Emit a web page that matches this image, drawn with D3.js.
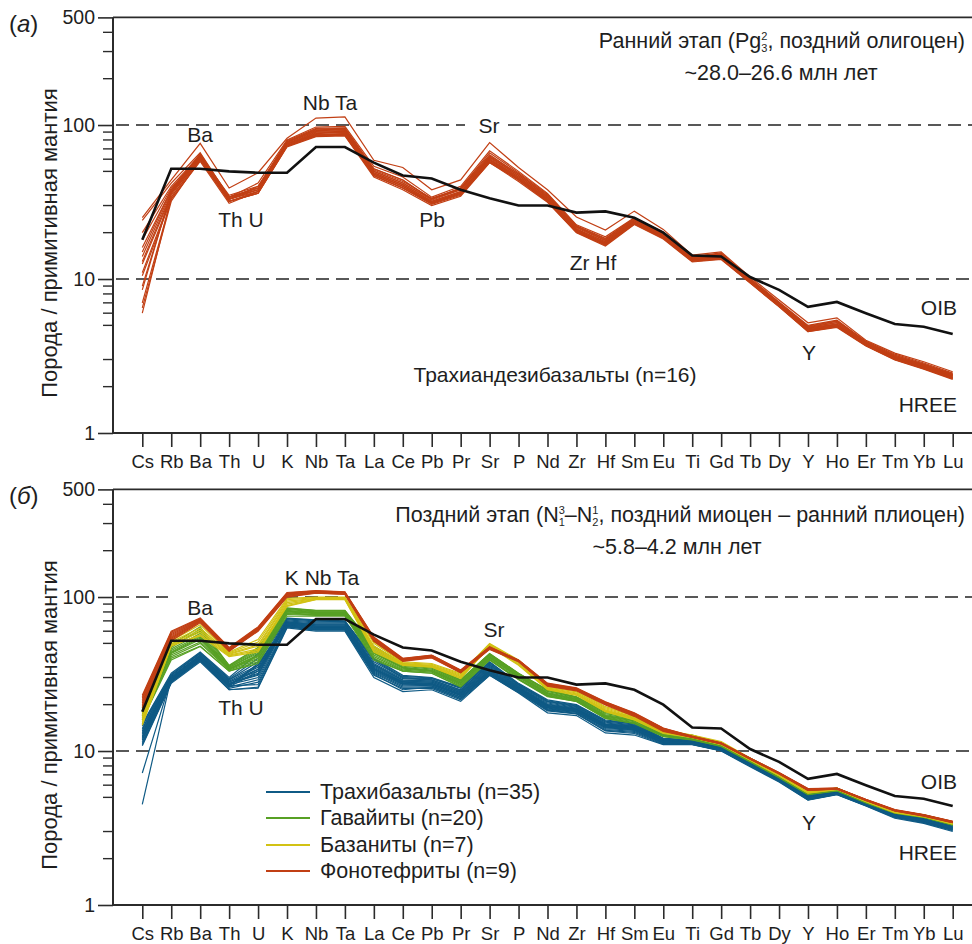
<!DOCTYPE html>
<html><head><meta charset="utf-8">
<script src="https://cdn.jsdelivr.net/npm/d3@7"></script>
<style>
html,body{margin:0;padding:0;background:#fff;}
svg{display:block;font-family:"Liberation Sans",Arial,sans-serif;}
</style></head>
<body><svg id="c" width="972" height="944"></svg>
<script>
// ---------- DATA ----------
const elements = ["Cs","Rb","Ba","Th","U","K","Nb","Ta","La","Ce","Pb","Pr","Sr","P","Nd","Zr","Hf","Sm","Eu","Ti","Gd","Tb","Dy","Y","Ho","Er","Tm","Yb","Lu"];
const yTickValues = [1,10,100,500];
const oib = [18,52,52,50,49,49,72,72,57,47,45,38,33.5,30,30,27,27.5,25,20,14.2,14,10.3,8.5,6.6,7.1,6.0,5.1,4.9,4.4];

// Panel (a): трахиандезибазальты, n=16
const earlyTrachyandesibasalts = [
 [25,44,76,39,49,82,111,113,59,53,38,44,77,53,38,25.3,20.8,27.6,21,14.3,15,10.3,7.3,5.2,5.6,4.0,3.3,2.9,2.5],
 [24,42,66,34,42,80,97,98,54,46,34,40,68,50,36,22.5,18.8,25,20.2,14,14.8,10.1,7.1,5.0,5.4,3.95,3.25,2.85,2.45],
 [20,40,64,33,40,78,94,95,52,44,33,39,64,48,35,22,18.2,24.6,19.8,13.8,14.5,10,7.0,4.9,5.3,3.9,3.2,2.8,2.4],
 [18,39,63,34,39,77,92,93,50,42,32.5,38,62,47,34,21.5,17.8,24.2,19.5,13.6,14.2,9.9,6.9,4.85,5.2,3.85,3.15,2.75,2.38],
 [16,38,62,33,38,76,90,91,49,41,32,37,61,46,33.5,21,17.5,23.8,19.2,13.4,14,9.8,6.85,4.8,5.1,3.8,3.1,2.72,2.35],
 [14,37,61,32,37,75,88,90,48,40,31.5,36.5,60,45,33,20.8,17.2,23.5,19,13.3,13.8,9.7,6.8,4.75,5.05,3.78,3.08,2.7,2.33],
 [13,36,60,33,37,74,87,88,48,40,31,36,59,45,32.5,20.5,17,23.2,18.8,13.2,13.7,9.6,6.75,4.7,5.0,3.75,3.05,2.68,2.3],
 [12.5,35,62,34,38,76,86,87,47,39,31,35.5,58,44,32,20.3,16.8,23,18.6,13.1,13.6,9.55,6.7,4.65,4.95,3.72,3.02,2.65,2.28],
 [11,34,60,32,36,73,85,86,47,39,30.5,35,57,44,32,20.1,16.6,22.8,18.4,13,13.5,9.5,6.65,4.6,4.9,3.7,3.0,2.62,2.25],
 [10.5,33,59,32,36,72,84,85,46,38,30,34.5,57,43,31.5,20,16.4,22.6,18.2,12.9,13.4,9.4,6.6,4.55,4.85,3.68,2.98,2.6,2.23],
 [9,36,63,35,40,77,91,92,50,42,33,38,62,47,34,21.2,17.4,23.9,19.3,13.5,14.1,9.8,6.85,4.8,5.1,3.82,3.12,2.74,2.36],
 [8.5,37,64,34,39,78,93,94,51,43,33.5,38.5,63,48,34.5,21.8,17.9,24.3,19.6,13.7,14.3,9.9,6.95,4.85,5.2,3.86,3.15,2.77,2.39],
 [7,33,58,31,37,75,89,90,49,41,32,37,60,46,33,20.7,17,23.4,18.9,13.3,13.9,9.7,6.8,4.7,5.0,3.77,3.06,2.69,2.31],
 [6.5,32,60,33,38,74,86,88,48,40,31.5,36,59,45,32.5,20.4,16.9,23.1,18.7,13.2,13.7,9.6,6.7,4.6,4.95,3.74,3.03,2.66,2.29],
 [6,34,61,32,36,73,85,86,47,39,31,35.5,58,44.5,32,20.2,16.7,22.9,18.5,13.1,13.6,9.5,6.65,4.55,4.9,3.7,3.0,2.63,2.26],
 [15,38,65,34,39,79,95,96,52,44,33,39,66,49,35.5,22.2,18.4,24.8,20,13.9,14.6,10,7.0,4.95,5.35,3.9,3.2,2.8,2.42]
];

// Panel (б)
const trachybasalts = [
 [15,32,44,30,43,73,71,70,40,31,30,26,38,27.5,21.5,20,15.9,15.2,12.1,11.8,10.7,8.5,6.8,5.2,5.6,4.7,4.0,3.72,3.38],
 [14.5,31,43,29,38,72,70,69,39,30,29.5,25.5,37,27,21,19.6,15.6,15,12,11.7,10.6,8.45,6.75,5.15,5.55,4.68,3.98,3.7,3.35],
 [14,31,43,29,36,71,69,69,38,30,29,25,36.5,26.8,20.8,19.4,15.4,14.8,11.9,11.6,10.55,8.4,6.7,5.1,5.5,4.65,3.95,3.68,3.33],
 [13.8,30.5,42,28.5,35,70,68,68,37,29.5,29,24.8,36,26.5,20.5,19.2,15.2,14.6,11.85,11.55,10.5,8.35,6.68,5.08,5.48,4.63,3.93,3.66,3.3],
 [13.5,30,42,28,34,69,67,67,36.5,29,28.5,24.5,35.5,26.2,20.2,19,15,14.5,11.8,11.5,10.45,8.3,6.65,5.05,5.45,4.6,3.9,3.64,3.28],
 [13.2,30,41.5,28,33,69,66,66,36,28.8,28.5,24.2,35,26,20,18.8,14.9,14.4,11.75,11.45,10.4,8.28,6.62,5.03,5.43,4.58,3.88,3.62,3.26],
 [13,29.5,41,27.5,32,68,66,66,35.5,28.5,28,24,34.5,25.8,19.8,18.7,14.8,14.3,11.7,11.4,10.38,8.25,6.6,5.0,5.4,4.56,3.86,3.6,3.24],
 [12.8,29.5,41,27.5,31,68,65,65,35,28.2,28,23.8,34,25.6,19.6,18.6,14.7,14.2,11.65,11.35,10.35,8.22,6.58,4.98,5.38,4.55,3.85,3.58,3.22],
 [12.5,29,40.5,27,30,67,64.5,64.5,34.5,28,27.5,23.5,33.5,25.4,19.5,18.5,14.6,14.1,11.6,11.3,10.3,8.2,6.55,4.96,5.36,4.53,3.83,3.56,3.2],
 [12.3,29,40,27,34,67,64,64,34,27.8,27.5,23.3,33,25.2,19.4,18.4,14.5,14,11.55,11.28,10.28,8.18,6.52,4.94,5.34,4.52,3.82,3.54,3.18],
 [12,29,40,26.5,36,66,63.5,63.5,34,27.5,27,23,33,25,19.2,18.2,14.4,13.9,11.5,11.25,10.25,8.15,6.5,4.92,5.32,4.5,3.8,3.52,3.16],
 [11.8,28.5,39.5,26.5,37,66,63,63,33.5,27.2,27,22.8,32.5,24.8,19,18.1,14.3,13.8,11.45,11.22,10.22,8.12,6.48,4.9,5.3,4.48,3.78,3.5,3.14],
 [11.5,28.5,39,26,33,65,62.5,62.5,33,27,26.5,22.5,32,24.6,18.8,18,14.2,13.7,11.4,11.2,10.2,8.1,6.45,4.88,5.28,4.47,3.77,3.48,3.12],
 [11.2,28,39,26,29,65,62,62,32.5,26.5,26.5,22.3,32,24.4,18.6,17.8,14,13.6,11.35,11.15,10.15,8.08,6.42,4.86,5.26,4.45,3.75,3.46,3.1],
 [11,28,38.5,25.5,28,64,61.5,61.5,32,26,26,22,31.5,24.2,18.4,17.6,13.8,13.4,11.3,11.1,10.1,8.05,6.4,4.84,5.24,4.43,3.73,3.44,3.07],
 [10.8,27.5,38,25,26,64,61,61,31,25.5,25.5,21.5,31,24,18.2,17.4,13.6,13.2,11.2,11.05,10.05,8.0,6.35,4.82,5.22,4.42,3.71,3.42,3.04],
 [7.2,29.5,39,25,25.6,63,60,60,30,24.3,25,21,31,23.8,17.7,17,13.1,12.7,11,11,10,7.9,6.3,4.8,5.2,4.4,3.66,3.39,3.0],
 [4.5,30,40,26.5,27,65,62,62,31.5,25,26,21.8,32,24.5,18.5,17.5,13.5,13,11.1,11.05,10.1,8.0,6.38,4.85,5.25,4.44,3.72,3.45,3.08],
 [14.8,31.5,43.5,29.5,40,72.5,70.5,69.5,39.5,30.5,29.8,25.8,37.5,27.2,21.2,19.8,15.7,15.1,12.05,11.75,10.65,8.48,6.78,5.18,5.58,4.69,3.99,3.71,3.36],
 [12.2,29.2,40.2,27.2,31.5,67.5,64.2,64.2,34.2,27.6,27.2,23.2,33.2,25.1,19.3,18.3,14.45,13.95,11.52,11.27,10.27,8.16,6.51,4.93,5.33,4.51,3.81,3.53,3.17]
];
const hawaiites = [
 [19.4,49,64,36,47,85,82,82,48,37,35.3,29,43,32,25,22.5,18,16.7,13.3,12.7,11.2,9.0,7.2,5.45,5.75,4.8,4.1,3.85,3.47],
 [19,48,60,35.5,45,84,81,81,47,36.5,35,28.7,42.5,31.7,24.7,22.3,17.8,16.5,13.2,12.6,11.1,8.9,7.1,5.42,5.72,4.78,4.08,3.83,3.45],
 [18.5,46,58,35,44,83,80,80,46,36,34.5,28.4,42,31.4,24.4,22.1,17.5,16.3,13.1,12.5,11.05,8.85,7.05,5.4,5.7,4.76,4.06,3.81,3.43],
 [18,45,56,35,43,82,79.5,79.5,45,35.5,34,28,41.5,31,24,21.9,17.2,16.1,12.95,12.35,11,8.8,7.0,5.37,5.67,4.74,4.04,3.8,3.41],
 [17.5,44,55,34.5,42,81,79,79,44,35,33.5,27.7,41,30.7,23.8,21.7,17,15.9,12.85,12.25,10.95,8.75,6.95,5.34,5.64,4.72,4.02,3.78,3.39],
 [17,43,53,34,41,80,78,78,43,34.5,33,27.4,40.5,30.4,23.5,21.5,16.8,15.7,12.75,12.15,10.9,8.7,6.9,5.31,5.61,4.7,4.0,3.76,3.37],
 [16.8,42,51,34,40,79,77,77,42,34,33,27,40,30,23.2,21.3,16.6,15.5,12.65,12.05,10.85,8.65,6.85,5.28,5.58,4.68,3.98,3.74,3.35],
 [16.5,41,50,33.5,39,78,76.5,76.5,41,33.5,32.5,26.7,39.5,29.5,23,21.1,16.4,15.3,12.55,11.95,10.8,8.6,6.8,5.25,5.55,4.66,3.96,3.72,3.33],
 [16,40,48,33,38,77,76,76,40,33,32,26.3,39,29.2,22.7,21,16.3,15.1,12.45,11.85,10.75,8.55,6.75,5.22,5.52,4.64,3.95,3.7,3.31],
 [15.9,39,47.7,33,37,75,75,75,39,33,32,26,39,29,22.5,21,16.3,15.1,12.4,11.8,10.7,8.5,6.7,5.2,5.5,4.6,3.95,3.7,3.3],
 [18.2,47,62,35.8,46,84.5,81.5,81.5,47.5,36.8,35.2,28.9,42.8,31.9,24.9,22.4,17.9,16.6,13.25,12.65,11.15,8.95,7.15,5.44,5.74,4.79,4.09,3.84,3.46],
 [17.2,43.5,54,34.2,41.5,80.5,78.5,78.5,43.5,34.8,33.2,27.5,40.7,30.5,23.6,21.6,16.9,15.8,12.8,12.2,10.92,8.72,6.92,5.32,5.62,4.71,4.01,3.77,3.38]
];
const basanites = [
 [17.7,54,69,44,53,98,100,100,51,38,37,32,50,39,26.8,25,19.4,17.1,13.7,12.7,11.5,9.0,7.1,5.45,5.75,4.8,4.1,3.85,3.45],
 [17,52,66,43.5,51,96,99,99,50,37.5,36.5,31.5,49.5,38.5,26.5,24.6,19.1,16.9,13.6,12.6,11.4,8.95,7.05,5.42,5.72,4.78,4.08,3.83,3.43],
 [16.5,51,63,43,49,94,98,98,48,37,36,31,49,38,26,24.2,18.8,16.6,13.5,12.5,11.3,8.9,7.0,5.4,5.7,4.76,4.06,3.81,3.41],
 [16,50,61,42.5,48,92,97.5,97.5,47,36.8,35.8,30.6,48.5,37.5,25.7,23.8,18.5,16.4,13.4,12.4,11.2,8.85,6.98,5.38,5.68,4.74,4.04,3.79,3.39],
 [15.5,49,59,42,46,90,97,97,46,36.5,35.5,30.2,48,37,25.4,23.5,18.3,16.2,13.25,12.3,11.1,8.8,6.95,5.36,5.66,4.72,4.02,3.77,3.37],
 [15,48,57,41.5,45,88,96.5,96.5,45,36.2,35.2,29.8,47.8,36.5,25.2,23.2,18.1,16,13.1,12.25,11.05,8.75,6.92,5.34,5.64,4.7,4.0,3.75,3.36],
 [14.7,48.5,56,41,44,87,96,96,44,36,35,29.6,47.6,36,25,23,18,15.9,13,12.2,11,8.7,6.9,5.32,5.62,4.68,3.98,3.74,3.35]
];
const phonotephrites = [
 [23,60,73,47,64,107,110,108,55,40,42,33.6,47.5,39,27.6,25.7,20.9,17.7,14.1,12.5,11.3,9.0,7.25,5.7,5.75,4.85,4.16,3.86,3.5],
 [22.5,59,72.5,46.5,63.5,106,109.5,107.5,54.5,39.8,41.8,33.4,47.3,38.9,27.4,25.5,20.8,17.6,14.05,12.45,11.28,8.98,7.23,5.68,5.74,4.84,4.15,3.85,3.49],
 [22,58,72,46,63,105,109,107,54,39.6,41.6,33.2,47,38.8,27.2,25.4,20.6,17.5,14,12.4,11.25,8.96,7.21,5.66,5.72,4.83,4.14,3.84,3.48],
 [21.5,57,71.5,45.7,62.5,104.5,108.5,106.5,53.5,39.4,41.4,33,46.8,38.6,27,25.2,20.5,17.4,13.9,12.38,11.22,8.95,7.2,5.64,5.71,4.82,4.13,3.83,3.47],
 [21,56,71,45.5,62,104,108,106,53,39.2,41.2,32.8,46.6,38.5,26.9,25.1,20.4,17.3,13.8,12.35,11.2,8.93,7.18,5.62,5.7,4.81,4.12,3.82,3.46],
 [20.5,55,70.5,45.2,61.5,103,107.5,105.5,52.5,39,41,32.6,46.4,38.4,26.8,25,20.3,17.2,13.7,12.32,11.18,8.92,7.16,5.6,5.69,4.8,4.11,3.81,3.45],
 [20,54,70,45,61,102,107,105,52,38.8,40.8,32.4,46.2,38.3,26.7,24.9,20.2,17.1,13.6,12.3,11.16,8.9,7.14,5.58,5.68,4.79,4.1,3.8,3.44],
 [19.5,53,69,44.7,60.5,101,106.5,104.5,52,38.5,40.5,32.3,46,38.2,26.5,24.8,20.1,17,13.5,12.28,11.14,8.88,7.12,5.56,5.67,4.78,4.09,3.79,3.43],
 [19,52,68,44.5,60,100,106,104,51.5,38.2,40.2,32.2,45.7,38,26.4,24.6,19.9,16.8,13.4,12.25,11.12,8.86,7.1,5.55,5.66,4.77,4.08,3.78,3.42]
];
const legendLabels = ["Трахибазальты (n=35)","Гавайиты (n=20)","Базаниты (n=7)","Фонотефриты (n=9)"];

// ---------- DRAW ----------
const svg = d3.select("#c");
const FF = "Liberation Sans, Arial, sans-serif";
const F_TICKX = 18.5, F_TICKY = 19.5, F_LAB = 21, F_HEAD = 21.5, F_TITLE = 22, F_LEG = 21.5;
const cBlue = "#0f5a85", cGreen = "#57a024", cYellow = "#d2c214", cRed = "#c13f14";
const axisCol = "#2b2b2b", txtCol = "#1e1e1e";
const x = d3.scalePoint().domain(elements).range([142.3, 952.7]);
const X0 = 113, X1 = 972;

function drawPanel(top, bottom, cfg) {
  const y = d3.scaleLog().domain([1, 500]).range([bottom, top]);
  const g = svg.append("g");

  cfg.dashes.forEach(d => {
    d.segs.forEach(s => {
      g.append("line").attr("x1", s[0]).attr("x2", s[1])
        .attr("y1", y(d.v)).attr("y2", y(d.v))
        .attr("stroke", "#222").attr("stroke-width", 1.5)
        .attr("stroke-dasharray", "13,7");
    });
  });

  const minor = [2,3,5,6,7,8,9,20,30,50,60,70,80,90,200,300,400];
  const ya = g.append("g").attr("transform", `translate(${X0},0)`);
  ya.call(d3.axisLeft(y).tickValues(yTickValues).tickFormat(d3.format("d")).tickSize(15).tickPadding(3));
  ya.selectAll(".tick text").attr("font-size", F_TICKY).attr("fill", txtCol).attr("font-family", FF);
  ya.selectAll(".tick line").attr("stroke", axisCol).attr("stroke-width", 1.6);
  ya.select(".domain").remove();
  minor.forEach(v => g.append("line").attr("x1", X0 - 10).attr("x2", X0)
    .attr("y1", y(v)).attr("y2", y(v)).attr("stroke", axisCol).attr("stroke-width", 1.4));

  const xa = g.append("g").attr("transform", `translate(0,${bottom})`);
  xa.call(d3.axisBottom(x).tickSize(14).tickPadding(8));
  xa.select(".domain").remove();
  xa.selectAll(".tick line").attr("stroke", axisCol).attr("stroke-width", 1.6);
  xa.selectAll(".tick text").attr("font-size", F_TICKX).attr("fill", txtCol).attr("font-family", FF);

  g.append("line").attr("x1", X0).attr("x2", X1).attr("y1", bottom).attr("y2", bottom).attr("stroke", axisCol).attr("stroke-width", 2);
  g.append("line").attr("x1", X0).attr("x2", X1).attr("y1", top).attr("y2", top).attr("stroke", axisCol).attr("stroke-width", 1.6);
  g.append("line").attr("x1", X0).attr("x2", X0).attr("y1", top).attr("y2", bottom).attr("stroke", axisCol).attr("stroke-width", 2);

  const line = d3.line().x((d, i) => x(elements[i])).y(d => y(d));
  cfg.groups.forEach(grp => {
    grp.data.forEach(s => {
      g.append("path").attr("d", line(s)).attr("fill", "none").attr("stroke", grp.color)
        .attr("stroke-width", 1.2).attr("stroke-linejoin", "miter");
    });
  });
  g.append("path").attr("d", line(oib)).attr("fill", "none").attr("stroke", "#111").attr("stroke-width", 2.6).attr("stroke-linejoin", "miter");

  g.append("text").attr("transform", `translate(57,${cfg.titleY}) rotate(-90)`)
    .attr("text-anchor", "middle").attr("font-size", F_TITLE).attr("fill", txtCol)
    .text("Порода / примитивная мантия");

  const pl = g.append("text").attr("x", 9).attr("y", top + 15).attr("font-size", 24).attr("fill", txtCol);
  pl.append("tspan").text("(");
  pl.append("tspan").attr("font-style", "italic").text(cfg.letter);
  pl.append("tspan").text(")");

  cfg.labels.forEach(l => {
    g.append("text").attr("x", l[1]).attr("y", l[2]).attr("text-anchor", l[3] || "middle")
      .attr("font-size", F_LAB).attr("fill", txtCol).text(l[0]);
  });

  const h = g.append("text").attr("x", 965).attr("y", cfg.headY).attr("text-anchor", "end").attr("font-size", F_HEAD).attr("fill", txtCol);
  cfg.head.forEach(p => {
    const t = h.append("tspan").text(p.t);
    if (p.sub) t.attr("font-size", 11).attr("dy", 4);
    if (p.sup) t.attr("font-size", 11).attr("dx", -6.1).attr("dy", -12.5);
    if (p.back) t.attr("dy", p.back);
  });
  g.append("text").attr("x", cfg.head2[1]).attr("y", cfg.headY + 32).attr("text-anchor", "middle")
    .attr("font-size", F_HEAD).attr("fill", txtCol).text(cfg.head2[0]);
  return g;
}

drawPanel(17.4, 433, {
  letter: "а", titleY: 243, headY: 48,
  dashes: [{v: 100, segs: [[116, 465], [508, X1]]}, {v: 10, segs: [[116, X1]]}],
  groups: [{color: cRed, data: earlyTrachyandesibasalts}],
  labels: [["Ba", 200, 142], ["Th U", 241, 227], ["Nb Ta", 330, 110], ["Sr", 489, 133], ["Pb", 432, 227],
           ["Zr Hf", 593, 270], ["Y", 809, 360], ["OIB", 957, 315, "end"], ["HREE", 957, 412, "end"],
           ["Трахиандезибазальты (n=16)", 555, 382]],
  head: [{t: "Ранний этап (Pg"}, {t: "3", sub: true}, {t: "2", sup: true}, {t: ", поздний олигоцен)", back: 8.5}],
  head2: ["~28.0–26.6 млн лет", 781]
});

const gb = drawPanel(489.4, 905, {
  letter: "б", titleY: 715, headY: 522,
  dashes: [{v: 100, segs: [[116, 168], [225, X1]]}, {v: 10, segs: [[116, X1]]}],
  groups: [{color: cBlue, data: trachybasalts}, {color: cGreen, data: hawaiites},
           {color: cYellow, data: basanites}, {color: cRed, data: phonotephrites}],
  labels: [["Ba", 200, 615], ["K Nb Ta", 322, 585], ["Th U", 241, 715], ["Sr", 494, 637], ["Y", 809, 830],
           ["OIB", 957, 789, "end"], ["HREE", 957, 860, "end"]],
  head: [{t: "Поздний этап (N"}, {t: "1", sub: true}, {t: "3", sup: true}, {t: "–N", back: 8.5}, {t: "2", sub: true}, {t: "1", sup: true}, {t: ", поздний миоцен – ранний плиоцен)", back: 8.5}],
  head2: ["~5.8–4.2 млн лет", 677]
});

const legCols = [cBlue, cGreen, cYellow, cRed];
const legY = [792, 818, 845, 871];
legendLabels.forEach((t, i) => {
  gb.append("line").attr("x1", 266).attr("x2", 310).attr("y1", legY[i]).attr("y2", legY[i]).attr("stroke", legCols[i]).attr("stroke-width", 1.8);
  gb.append("text").attr("x", 320).attr("y", legY[i] + 7).attr("font-size", F_LEG).attr("fill", txtCol).text(t);
});
</script></body></html>
